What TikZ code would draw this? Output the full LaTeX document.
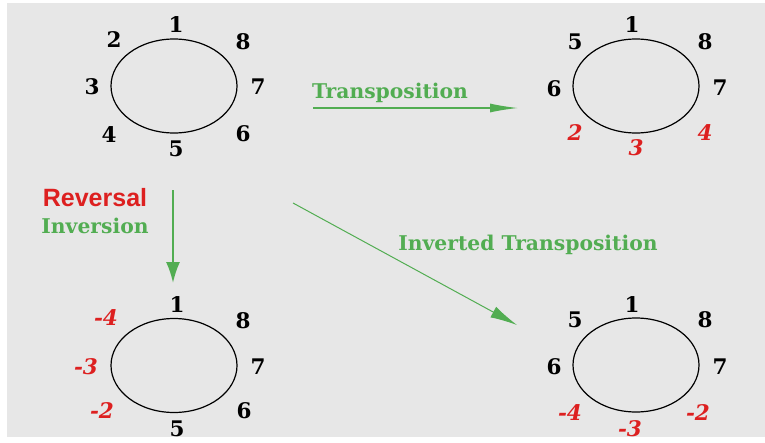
\documentclass[tikz,border=0pt]{standalone}
\usepackage{fontspec}
\setmainfont{DejaVu Serif}
\newfontfamily\headsans{Liberation Sans}
\usetikzlibrary{arrows.meta,shapes.geometric}

\definecolor{panelgray}{HTML}{E7E7E7}
\definecolor{opgreen}{HTML}{52AD52}
\definecolor{negred}{HTML}{DD2020}

\tikzset{
  gene/.style={inner sep=0pt, text=black, font=\fontsize{21.5}{21.5}\selectfont\bfseries},
  neggene/.style={gene, text=negred, font=\fontsize{21.5}{21.5}\selectfont\bfseries\itshape},
  chrom/.style={ellipse, draw=black, line width=1.2pt, minimum width=126pt,
    minimum height=94pt, inner sep=0pt},
  oplabel/.style={anchor=base, inner sep=0pt, text=opgreen,
    font=\fontsize{20.3}{20.3}\selectfont\bfseries},
  opflow/.style={draw=opgreen}
}

\begin{document}
\begin{tikzpicture}[x=1pt,y=-1pt]
  % canvas
  \fill[white] (0,0) rectangle (765,442);
  \fill[panelgray] (7,3) rectangle (765,437);
  \useasboundingbox (0,0) rectangle (765,442);

  % original genome
  \node[chrom] (c1) at (174,86) {};
  \node[gene] (a1) at (176,25) {1};
  \node[gene] (a2) at (114,40) {2};
  \node[gene] (a3) at (92,87) {3};
  \node[gene] (a4) at (109,135) {4};
  \node[gene] (a5) at (176,149) {5};
  \node[gene] (a6) at (243,134) {6};
  \node[gene] (a7) at (258,87) {7};
  \node[gene] (a8) at (243,42) {8};

  % after transposition
  \node[chrom] (c2) at (636,86) {};
  \node[gene] (b1) at (632,25) {1};
  \node[gene] (b5) at (575,42) {5};
  \node[gene] (b6) at (554,89) {6};
  \node[neggene] (b2) at (575,133) {2};
  \node[neggene] (b3) at (636,148) {3};
  \node[neggene] (b4) at (705,133) {4};
  \node[gene] (b7) at (720,88) {7};
  \node[gene] (b8) at (705,42) {8};

  % after reversal
  \node[chrom] (c3) at (174,365.5) {};
  \node[gene] (e1) at (177,305) {1};
  \node[neggene] (e4) at (106,318) {-4};
  \node[neggene] (e3) at (86,367) {-3};
  \node[neggene] (e2) at (102,411) {-2};
  \node[gene] (e5) at (177,429) {5};
  \node[gene] (e6) at (244,411) {6};
  \node[gene] (e7) at (258,367) {7};
  \node[gene] (e8) at (243,321) {8};

  % after inverted transposition
  \node[chrom] (c4) at (636,365) {};
  \node[gene] (f1) at (632,305) {1};
  \node[gene] (f5) at (575,320) {5};
  \node[gene] (f6) at (554,367) {6};
  \node[neggene] (f4) at (570,413) {-4};
  \node[neggene] (f3) at (630,429) {-3};
  \node[neggene] (f2) at (698,413) {-2};
  \node[gene] (f7) at (720,367) {7};
  \node[gene] (f8) at (705,320) {8};

  % operation labels
  \node[oplabel] (ltr) at (390,98) {Transposition};
  \node[anchor=base, inner sep=0pt, text=negred,
    font=\headsans\fontsize{25}{25}\selectfont\bfseries] (lrev) at (95,206) {Reversal};
  \node[oplabel] (linv) at (95,233) {Inversion};
  \node[oplabel] (lit) at (528,250) {Inverted Transposition};

  % operation arrows
  \coordinate (t0) at (313,108);
  \coordinate (t1) at (518,108);
  \coordinate (r0) at (173,190);
  \coordinate (r1) at (173,283);
  \coordinate (d0) at (293,203);
  \coordinate (d1) at (517,325);
  \draw[opflow, line width=1.3pt, -{Latex[length=28pt,width=9pt]}] (t0) -- (t1);
  \draw[opflow, line width=2pt, -{Latex[length=21pt,width=14pt]}] (r0) -- (r1);
  \draw[opflow, line width=1pt, -{Latex[length=27pt,width=12pt]}] (d0) -- (d1);
\end{tikzpicture}
\end{document}
